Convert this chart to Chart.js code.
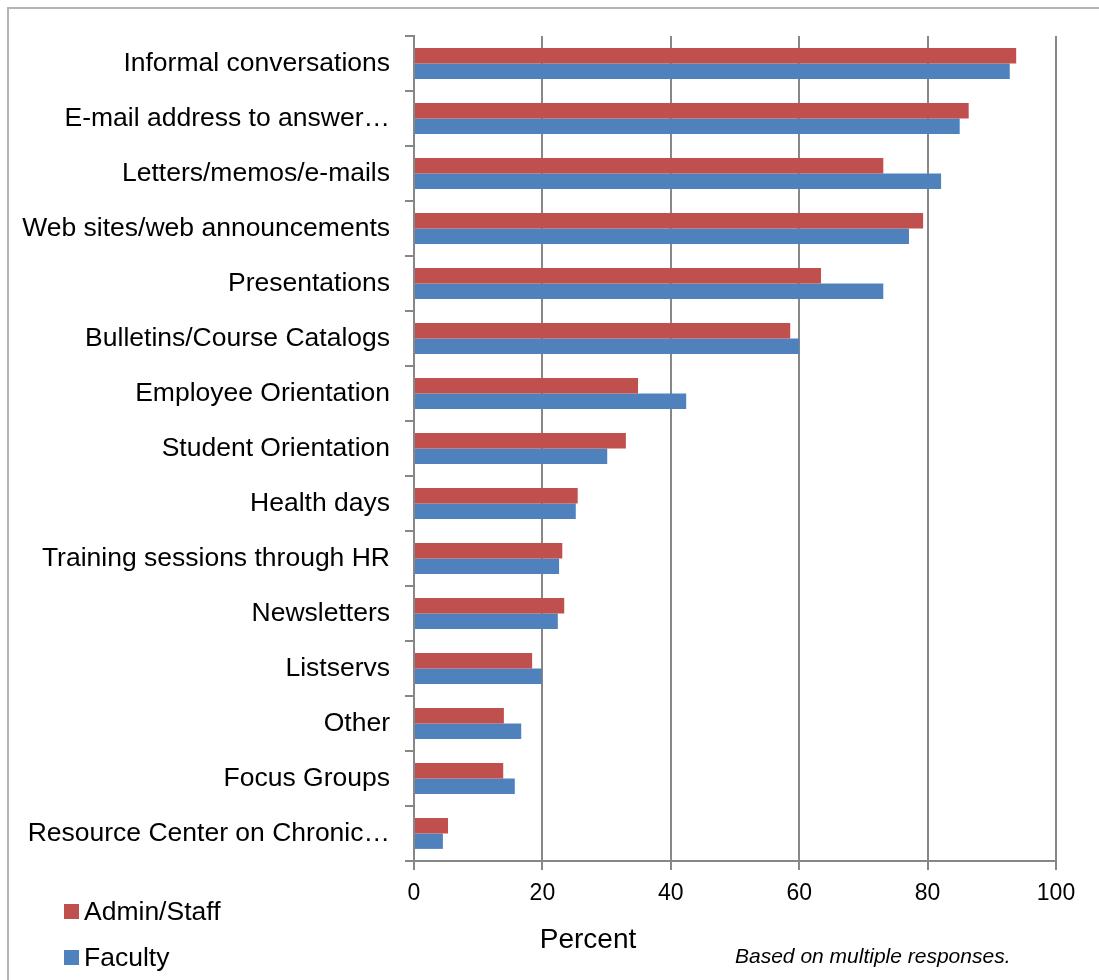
<!DOCTYPE html>
<html>
<head>
<meta charset="utf-8">
<script src="https://cdn.jsdelivr.net/npm/chart.js@4.4.0/dist/chart.umd.min.js"></script>
<style>
  html, body { margin: 0; padding: 0; background: #fff; }
  #wrap { width: 1099px; height: 980px; position: relative; }
</style>
</head>
<body>
<div id="wrap"><canvas id="chart" width="1099" height="980"></canvas></div>
<script>
const categories = [
  'Informal conversations',
  'E-mail address to answer\u2026',
  'Letters/memos/e-mails',
  'Web sites/web announcements',
  'Presentations',
  'Bulletins/Course Catalogs',
  'Employee Orientation',
  'Student Orientation',
  'Health days',
  'Training sessions through HR',
  'Newsletters',
  'Listservs',
  'Other',
  'Focus Groups',
  'Resource Center on Chronic\u2026'
]
const adminStaff = [93.8, 86.4, 73.1, 79.3, 63.4, 58.6, 34.9, 33.0, 25.5, 23.1, 23.4, 18.4, 14.0, 13.9, 5.3]
const faculty = [92.8, 85.0, 82.1, 77.1, 73.1, 60.0, 42.4, 30.1, 25.2, 22.6, 22.4, 19.9, 16.7, 15.7, 4.5]
const xTicks = [0, 20, 40, 60, 80, 100]

const FONT = '"Liberation Sans", Arial, sans-serif'
const GRID = '#878787'

// frame, axis title, footnote and the stacked legend in the lower left
const extras = {
  id: 'extras',
  afterDraw(chart) {
    const ctx = chart.ctx
    ctx.save()
    ctx.strokeStyle = '#b4b4b4'
    ctx.lineWidth = 2
    ctx.beginPath()
    ctx.moveTo(8, 980)
    ctx.lineTo(8, 8)
    ctx.lineTo(1099, 8)
    ctx.stroke()

    ctx.fillStyle = '#000'
    ctx.textBaseline = 'middle'
    ctx.textAlign = 'center'
    ctx.font = '28px ' + FONT
    ctx.fillText('Percent', 588, 940)

    ctx.textAlign = 'left'
    ctx.font = 'italic 21px ' + FONT
    ctx.fillText('Based on multiple responses.', 735, 957)

    ctx.font = '26.5px ' + FONT
    const rows = [912, 958]
    chart.data.datasets.forEach((ds, i) => {
      ctx.fillStyle = ds.backgroundColor
      ctx.fillRect(64, rows[i] - 8, 15, 15)
      ctx.fillStyle = '#000'
      ctx.fillText(ds.label, 84, rows[i] + 1)
    })
    ctx.restore()
  }
}

new Chart(document.getElementById('chart'), {
  type: 'bar',
  data: {
    labels: categories,
    datasets: [
      { label: 'Admin/Staff', data: adminStaff, backgroundColor: '#C0504D' },
      { label: 'Faculty', data: faculty, backgroundColor: '#4F81BD' }
    ]
  },
  options: {
    indexAxis: 'y',
    responsive: false,
    animation: false,
    categoryPercentage: 0.56,
    barPercentage: 1.0,
    layout: { padding: { left: 0, right: 43, top: 36, bottom: 0 } },
    plugins: {
      legend: { display: false },
      tooltip: { enabled: false }
    },
    scales: {
      x: {
        min: 0,
        max: 100,
        afterBuildTicks(scale) {
          scale.ticks = xTicks.map(v => ({ value: v }))
        },
        afterFit(scale) { scale.height = 119 },
        grid: { color: GRID, lineWidth: 2, tickLength: 9 },
        border: { color: GRID, width: 2 },
        ticks: { color: '#000', padding: 10, font: { family: FONT, size: 23 } }
      },
      y: {
        afterFit(scale) { scale.width = 414 },
        grid: { color: GRID, lineWidth: 2, tickLength: 9, drawOnChartArea: false, offset: true },
        border: { color: GRID, width: 2 },
        ticks: { color: '#000', padding: 15, autoSkip: false, font: { family: FONT, size: 26.5 } }
      }
    }
  },
  plugins: [extras]
})
</script>
</body>
</html>
